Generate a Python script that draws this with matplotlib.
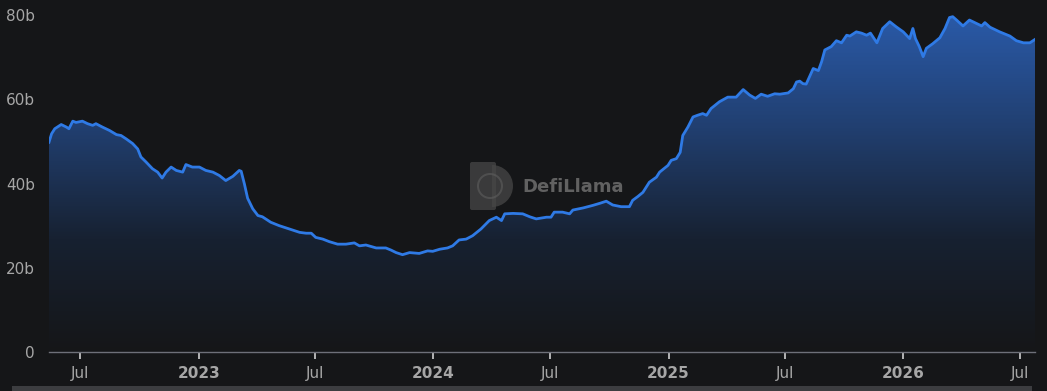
import numpy as np
import pandas as pd
import matplotlib
matplotlib.use("Agg")
import matplotlib.pyplot as plt
import matplotlib.dates as mdates
from matplotlib.colors import LinearSegmentedColormap
from matplotlib.patches import FancyBboxPatch, Rectangle, Wedge
from matplotlib.transforms import IdentityTransform

# Datos (valor en miles de millones)
fechas = [
    "2022-05-13", "2022-05-17", "2022-05-22", "2022-06-01", "2022-06-09", "2022-06-13",
    "2022-06-19", "2022-06-24", "2022-07-04", "2022-07-12", "2022-07-20", "2022-07-25",
    "2022-08-04", "2022-08-15", "2022-08-26", "2022-09-02", "2022-09-10", "2022-09-20",
    "2022-09-28", "2022-10-03", "2022-10-11", "2022-10-21", "2022-10-29", "2022-11-05",
    "2022-11-11", "2022-11-19", "2022-11-27", "2022-12-07", "2022-12-12", "2022-12-22",
    "2023-01-02", "2023-01-12", "2023-01-23", "2023-02-02", "2023-02-12", "2023-02-23",
    "2023-03-05", "2023-03-08", "2023-03-13", "2023-03-18", "2023-03-26", "2023-04-03",
    "2023-04-10", "2023-04-23", "2023-05-06", "2023-05-22", "2023-06-07", "2023-06-17",
    "2023-06-25", "2023-07-02", "2023-07-13", "2023-07-23", "2023-08-05", "2023-08-18",
    "2023-08-31", "2023-09-08", "2023-09-18", "2023-10-04", "2023-10-19", "2023-10-27",
    "2023-11-04", "2023-11-14", "2023-11-25", "2023-12-10", "2023-12-23", "2023-12-31",
    "2024-01-11", "2024-01-23", "2024-01-31", "2024-02-10", "2024-02-21", "2024-03-02",
    "2024-03-15", "2024-03-28", "2024-04-08", "2024-04-16", "2024-04-21", "2024-05-04",
    "2024-05-19", "2024-05-30", "2024-06-09", "2024-06-25", "2024-07-02", "2024-07-07",
    "2024-07-20", "2024-07-31", "2024-08-05", "2024-08-21", "2024-09-05", "2024-09-16",
    "2024-09-26", "2024-10-06", "2024-10-19", "2024-11-01", "2024-11-06", "2024-11-14",
    "2024-11-22", "2024-12-02", "2024-12-13", "2024-12-18", "2024-12-31", "2025-01-05",
    "2025-01-13", "2025-01-19", "2025-01-23", "2025-01-31", "2025-02-08", "2025-02-15",
    "2025-02-23", "2025-03-01", "2025-03-08", "2025-03-21", "2025-04-03", "2025-04-16",
    "2025-04-27", "2025-05-07", "2025-05-16", "2025-05-25", "2025-06-04", "2025-06-15",
    "2025-06-23", "2025-07-06", "2025-07-14", "2025-07-19", "2025-07-24", "2025-07-29",
    "2025-08-03", "2025-08-14", "2025-08-22", "2025-08-27", "2025-09-01", "2025-09-11",
    "2025-09-19", "2025-09-27", "2025-10-05", "2025-10-10", "2025-10-20", "2025-10-28",
    "2025-11-05", "2025-11-11", "2025-11-21", "2025-11-30", "2025-12-11", "2025-12-21",
    "2026-01-01", "2026-01-11", "2026-01-16", "2026-01-20", "2026-01-26", "2026-02-01",
    "2026-02-06", "2026-02-16", "2026-02-27", "2026-03-07", "2026-03-14", "2026-03-19",
    "2026-03-25", "2026-04-04", "2026-04-14", "2026-04-25", "2026-05-03", "2026-05-08",
    "2026-05-16", "2026-05-31", "2026-06-16", "2026-06-26", "2026-07-07", "2026-07-17",
    "2026-07-25",
]
valores = [
    49.8, 51.8, 53.0, 54.0, 53.4, 53.0,
    54.8, 54.5, 54.8, 54.2, 53.8, 54.2,
    53.4, 52.6, 51.6, 51.4, 50.6, 49.5,
    48.2, 46.3, 45.1, 43.5, 42.7, 41.3,
    42.7, 43.9, 43.1, 42.7, 44.5, 43.9,
    43.9, 43.1, 42.7, 41.9, 40.7, 41.7,
    43.1, 42.9, 39.9, 36.5, 34.0, 32.4,
    32.1, 30.8, 30.0, 29.2, 28.4, 28.2,
    28.2, 27.2, 26.8, 26.2, 25.6, 25.6,
    25.9, 25.2, 25.4, 24.7, 24.7, 24.2,
    23.6, 23.1, 23.6, 23.4, 24.0, 23.9,
    24.4, 24.7, 25.2, 26.6, 26.8, 27.6,
    29.2, 31.2, 32.0, 31.2, 32.8, 32.9,
    32.8, 32.1, 31.6, 32.0, 32.0, 33.2,
    33.2, 32.8, 33.7, 34.2, 34.8, 35.3,
    35.8, 34.9, 34.5, 34.5, 36.0, 36.9,
    37.9, 40.3, 41.5, 42.7, 44.3, 45.5,
    45.9, 47.4, 51.4, 53.4, 55.8, 56.2,
    56.6, 56.2, 57.8, 59.4, 60.5, 60.5,
    62.3, 61.0, 60.2, 61.2, 60.7, 61.3,
    61.2, 61.5, 62.5, 64.1, 64.3, 63.7,
    63.6, 67.3, 66.8, 68.9, 71.7, 72.5,
    73.9, 73.4, 75.2, 75.0, 76.0, 75.7,
    75.2, 75.7, 73.4, 76.8, 78.4, 77.2,
    76.0, 74.4, 76.8, 74.4, 72.5, 70.1,
    72.1, 73.2, 74.6, 76.8, 79.4, 79.6,
    78.8, 77.4, 78.8, 78.0, 77.4, 78.2,
    77.1, 76.0, 75.0, 73.9, 73.4, 73.4,
    74.2,
]

y_ticks = [0, 20, 40, 60, 80]
y_labels = ["0", "20b", "40b", "60b", "80b"]
x_ticks = ["2022-07-01", "2023-01-01", "2023-07-01", "2024-01-01", "2024-07-01",
           "2025-01-01", "2025-07-01", "2026-01-01", "2026-07-01"]
x_labels = ["Jul", "2023", "Jul", "2024", "Jul", "2025", "Jul", "2026", "Jul"]

fondo = "#151618"
azul = "#2f7ae5"

df = pd.DataFrame({"fecha": pd.to_datetime(fechas), "valor": valores})
xnum = mdates.date2num(df["fecha"])

fig = plt.figure(figsize=(10.47, 3.91), dpi=100, facecolor=fondo)
ax = fig.add_axes([49 / 1047, 39 / 391, 986 / 1047, 337 / 391])
ax.set_facecolor(fondo)

# Relleno con degradado
x0, x1 = xnum[0], xnum[-1]
cmap = LinearSegmentedColormap.from_list("grad", [fondo, "#172131", "#213f70", "#2a5aa8"])
grad = np.linspace(0, 1, 256).reshape(-1, 1)
img = ax.imshow(grad, cmap=cmap, aspect="auto", origin="lower",
                extent=[x0, x1, 0, 80], zorder=1)
poly = ax.fill_between(xnum, valores, 0, color="none", lw=0)
img.set_clip_path(poly.get_paths()[0], transform=ax.transData)

ax.plot(xnum, valores, color=azul, lw=2, zorder=3)

ax.set_xlim(x0, x1)
ax.set_ylim(0, 80)

# Ejes
for s in ["top", "right", "left"]:
    ax.spines[s].set_visible(False)
ax.spines["bottom"].set_color("#6e7079")
ax.spines["bottom"].set_linewidth(1)
ax.spines["bottom"].set_zorder(4)

ax.set_yticks(y_ticks)
ax.set_yticklabels(y_labels, color="#a6a6a6", fontsize=11)
ax.tick_params(axis="y", length=0, pad=10)

ax.set_xticks(mdates.date2num(pd.to_datetime(x_ticks)))
ax.set_xticklabels(x_labels, color="#a6a6a6", fontsize=11)
ax.tick_params(axis="x", length=5, width=1.2, color="#d0d0d0", pad=5)
for lbl in ax.get_xticklabels():
    if lbl.get_text() != "Jul":
        lbl.set_fontweight("bold")

# Marca de agua (en pixeles)
px = IdentityTransform()
fig.patches.append(FancyBboxPatch((472, 183), 22, 44, boxstyle="round,pad=2",
                                  transform=px, facecolor="#474747", edgecolor="none",
                                  alpha=0.75, zorder=5))
fig.patches.append(Wedge((492, 205), 21, -90, 90, transform=px,
                         facecolor="#474747", edgecolor="none", alpha=0.75, zorder=5))
fig.patches.append(Wedge((490, 205), 13, 0, 360, width=2, transform=px,
                         facecolor="#5e5e5e", edgecolor="none", alpha=0.6, zorder=6))
fig.text(522 / 1047, 204 / 391, "DefiLlama", color="#6a6a6a", fontsize=13,
         fontweight="bold", va="center", ha="left", alpha=0.9)

# Barra inferior
fig.patches.append(Rectangle((12 / 1047, 0), 1020 / 1047, 5 / 391, transform=fig.transFigure,
                             facecolor="#3c3d40", edgecolor="none"))

plt.savefig("out.png", dpi=100, facecolor=fondo)
plt.close()
